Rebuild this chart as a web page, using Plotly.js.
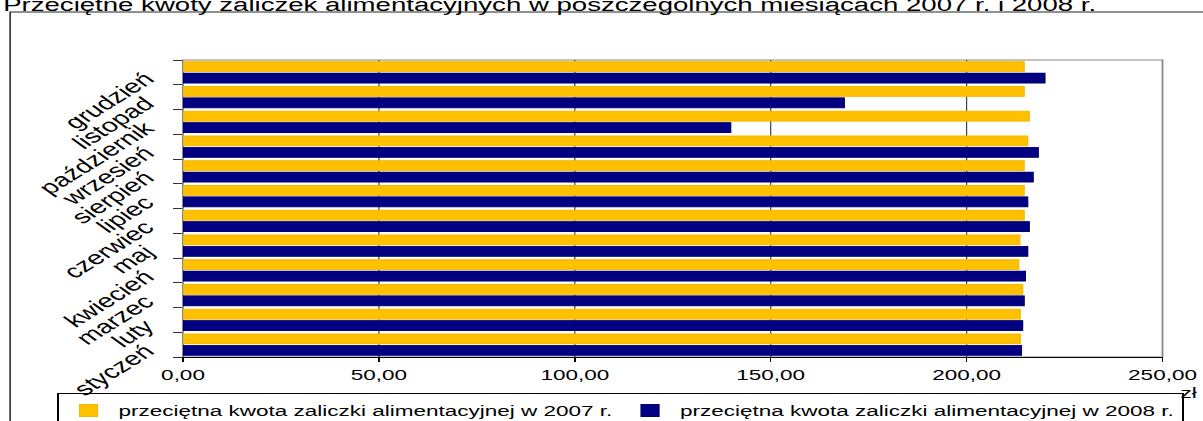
<!DOCTYPE html>
<html>
<head>
<meta charset="utf-8">
<script src="https://cdn.plot.ly/plotly-3.0.1.min.js"></script>
<style>
  html, body { margin: 0; padding: 0; overflow: hidden; background: #fff; width: 1203px; height: 421px; }
  #chart { width: 802px; height: 421px; transform: scaleX(1.5); transform-origin: 0 0; }
</style>
</head>
<body>
<div id="chart"></div>
<script>
const months = ['styczeń','luty','marzec','kwiecień','maj','czerwiec','lipiec','sierpień','wrzesień','październik','listopad','grudzień'];
const values2007 = [213.7, 213.7, 214.3, 213.3, 213.6, 214.7, 214.7, 214.7, 215.6, 216.0, 214.7, 214.7];
const values2008 = [214.0, 214.3, 214.7, 215.0, 215.6, 216.0, 215.6, 217.0, 218.3, 139.8, 168.8, 220.0];
const seriesNames = ['przeciętna kwota zaliczki alimentacyjnej w 2007 r.', 'przeciętna kwota zaliczki alimentacyjnej w 2008 r.'];
const titleText = 'Przeciętne kwoty zaliczek alimentacyjnych w poszczególnych miesiącach 2007 r. i 2008 r.';
const unitLabel = 'zł';

const FONT = 'Liberation Sans, Arial, sans-serif';

const traces = [
  {
    type: 'bar', orientation: 'h', name: seriesNames[0],
    y: months, x: values2007,
    offset: 0.03, width: 0.4,
    marker: { color: '#FFC000', line: { color: '#F5B800', width: 0.8 } },
    hoverinfo: 'x+y'
  },
  {
    type: 'bar', orientation: 'h', name: seriesNames[1],
    y: months, x: values2008,
    offset: -0.43, width: 0.4,
    marker: { color: '#000080', line: { color: '#000070', width: 0.8 } },
    hoverinfo: 'x+y'
  }
];

const layout = {
  width: 802, height: 421,
  margin: { l: 122, r: 27, t: 60, b: 64, pad: 0, autoexpand: false },
  paper_bgcolor: '#fff', plot_bgcolor: '#fff',
  font: { family: FONT, color: '#000', size: 15 },
  separators: ', ',
  barmode: 'overlay',
  showlegend: true,
  xaxis: {
    range: [0, 250], dtick: 50, tick0: 0, tickformat: '.2f',
    showgrid: true, gridcolor: '#444', gridwidth: 0.8,
    zeroline: false,
    showline: true, linecolor: '#000', linewidth: 1,
    ticks: 'outside', ticklen: 4, tickcolor: '#000',
    tickfont: { size: 15, family: FONT, color: '#000' },
    automargin: false,
    fixedrange: true
  },
  yaxis: {
    type: 'category', categoryorder: 'array', categoryarray: months,
    tickson: 'boundaries',
    showgrid: false, zeroline: false,
    showline: true, linecolor: '#888', linewidth: 1,
    ticks: 'outside', ticklen: 6, tickcolor: '#333',
    tickangle: -43,
    ticklabelstandoff: 20,
    ticklabelshift: 4,
    tickfont: { size: 19, family: FONT, color: '#000' },
    automargin: false,
    fixedrange: true
  },
  legend: {
    orientation: 'h',
    x: -0.1286, xanchor: 'left',
    y: -0.122, yanchor: 'top',
    bgcolor: 'rgba(255,255,255,0)', bordercolor: '#000', borderwidth: 1,
    font: { size: 15, family: FONT, color: '#000' },
    itemwidth: 30,
    tracegroupgap: 0
  },
  shapes: [
    { type: 'rect', xref: 'paper', yref: 'paper', x0: 0, x1: 1, y0: 0, y1: 1,
      line: { color: '#888', width: 1.2 }, fillcolor: 'rgba(0,0,0,0)', layer: 'below' },
    { type: 'rect', xref: 'paper', yref: 'paper', x0: -0.1765, x1: 1.3, y0: -0.6, y1: 1.1616,
      line: { color: '#222', width: 1 }, fillcolor: 'rgba(0,0,0,0)', layer: 'below' }
  ],
  annotations: [
    { text: titleText, xref: 'paper', yref: 'paper', x: -0.1867, y: 1.146,
      xanchor: 'left', yanchor: 'bottom', showarrow: false,
      font: { size: 18.4, family: FONT, color: '#000' } },
    { text: unitLabel, xref: 'paper', yref: 'paper', x: 1.0153, y: -0.1212,
      xanchor: 'left', yanchor: 'middle', showarrow: false,
      font: { size: 15, family: FONT, color: '#000' } }
  ]
};

Plotly.newPlot('chart', traces, layout, { displayModeBar: false, responsive: false, staticPlot: true });
</script>
</body>
</html>
